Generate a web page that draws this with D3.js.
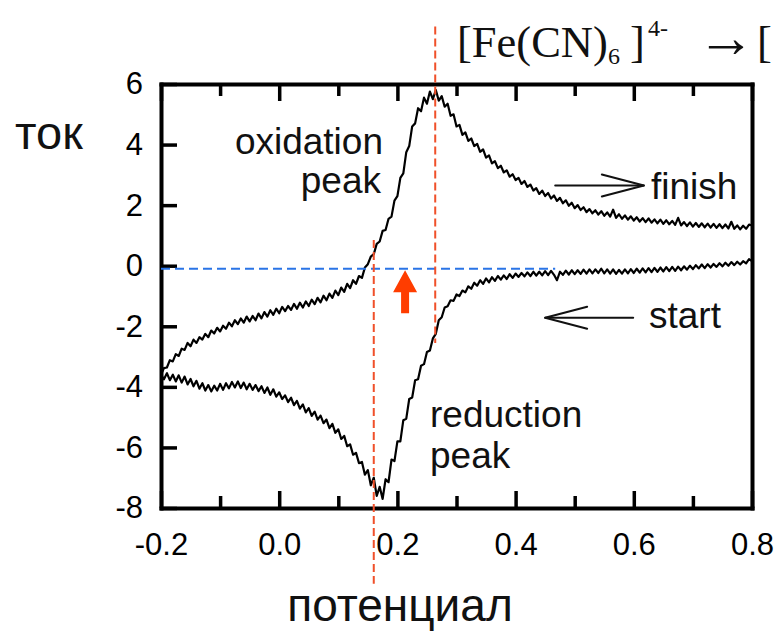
<!DOCTYPE html>
<html>
<head>
<meta charset="utf-8">
<script src="https://cdn.jsdelivr.net/npm/d3@7"></script>
<style>
  html, body { margin: 0; padding: 0; background: #fff; overflow: hidden; }
  svg { display: block; }
</style>
</head>
<body>
<svg id="chart" width="777" height="636"></svg>
<script>
// ---------------- data ----------------
const potential = [
  -0.2,-0.195,-0.19,-0.185,-0.18,-0.175,-0.17,-0.165,-0.16,-0.155,
  -0.15,-0.145,-0.14,-0.135,-0.13,-0.125,-0.12,-0.115,-0.11,-0.105,
  -0.1,-0.095,-0.09,-0.085,-0.08,-0.075,-0.07,-0.065,-0.06,-0.055,
  -0.05,-0.045,-0.04,-0.035,-0.03,-0.025,-0.02,-0.015,-0.01,-0.005,
  0,0.005,0.01,0.015,0.02,0.025,0.03,0.035,0.04,0.045,
  0.05,0.055,0.06,0.065,0.07,0.075,0.08,0.085,0.09,0.095,
  0.1,0.105,0.11,0.115,0.12,0.125,0.13,0.135,0.14,0.145,
  0.15,0.155,0.16,0.165,0.17,0.175,0.18,0.185,0.19,0.195,
  0.2,0.205,0.21,0.215,0.22,0.225,0.23,0.235,0.24,0.245,
  0.25,0.255,0.26,0.265,0.27,0.275,0.28,0.285,0.29,0.295,
  0.3,0.305,0.31,0.315,0.32,0.325,0.33,0.335,0.34,0.345,
  0.35,0.355,0.36,0.365,0.37,0.375,0.38,0.385,0.39,0.395,
  0.4,0.405,0.41,0.415,0.42,0.425,0.43,0.435,0.44,0.445,
  0.45,0.455,0.46,0.465,0.47,0.475,0.48,0.485,0.49,0.495,
  0.5,0.505,0.51,0.515,0.52,0.525,0.53,0.535,0.54,0.545,
  0.55,0.555,0.56,0.565,0.57,0.575,0.58,0.585,0.59,0.595,
  0.6,0.605,0.61,0.615,0.62,0.625,0.63,0.635,0.64,0.645,
  0.65,0.655,0.66,0.665,0.67,0.675,0.68,0.685,0.69,0.695,
  0.7,0.705,0.71,0.715,0.72,0.725,0.73,0.735,0.74,0.745,
  0.75,0.755,0.76,0.765,0.77,0.775,0.78,0.785,0.79,0.795,
  0.8
];

// anodic sweep (-0.2 -> 0.8, ends at "finish")
const oxidationCurrent = [
  -3.60,-3.38,-3.36,-3.12,-3.16,-2.92,-2.98,-2.74,-2.78,-2.55,
  -2.66,-2.44,-2.55,-2.36,-2.44,-2.25,-2.36,-2.14,-2.24,-2.05,
  -2.17,-1.98,-2.08,-1.88,-2.00,-1.80,-1.93,-1.74,-1.88,-1.68,
  -1.84,-1.66,-1.80,-1.58,-1.74,-1.53,-1.68,-1.47,-1.62,-1.42,
  -1.57,-1.36,-1.50,-1.33,-1.46,-1.26,-1.42,-1.22,-1.38,-1.18,
  -1.33,-1.12,-1.27,-1.06,-1.21,-0.99,-1.14,-0.92,-1.06,-0.82,
  -0.97,-0.72,-0.86,-0.60,-0.74,-0.48,-0.60,-0.34,-0.40,-0.06,
  0.05,0.30,0.38,0.72,0.80,1.15,1.18,1.55,1.62,2.15,
  2.30,2.90,3.05,3.75,3.95,4.60,4.70,5.20,5.10,5.55,
  5.35,5.75,5.50,5.80,5.45,5.60,5.25,5.35,4.95,5.00,
  4.60,4.65,4.32,4.40,4.12,4.20,3.95,4.02,3.76,3.84,
  3.57,3.64,3.38,3.45,3.22,3.30,3.08,3.15,2.94,3.02,
  2.83,2.90,2.70,2.80,2.60,2.68,2.48,2.56,2.37,2.48,
  2.30,2.40,2.22,2.32,2.14,2.24,2.06,2.16,1.98,2.08,
  1.90,2.00,1.84,1.93,1.77,1.87,1.73,1.83,1.69,1.80,
  1.65,1.76,1.62,1.85,1.58,1.70,1.55,1.66,1.52,1.63,
  1.49,1.60,1.46,1.57,1.44,1.56,1.42,1.53,1.40,1.52,
  1.38,1.50,1.37,1.48,1.35,1.58,1.33,1.44,1.31,1.43,
  1.29,1.41,1.28,1.40,1.27,1.39,1.26,1.38,1.25,1.37,
  1.24,1.36,1.23,1.45,1.22,1.33,1.20,1.32,1.22,1.36,
  1.33
];

// cathodic sweep (starts at 0.8 "start", runs to -0.2)
const reductionCurrent = [
  -3.60,-3.75,-3.55,-3.78,-3.60,-3.82,-3.62,-3.86,-3.66,-3.92,
  -3.74,-3.98,-3.80,-4.06,-3.88,-4.12,-3.94,-4.15,-3.96,-4.12,
  -3.90,-4.10,-3.88,-4.05,-3.84,-4.02,-3.82,-4.04,-3.86,-4.08,
  -3.90,-4.10,-3.94,-4.14,-3.98,-4.20,-4.02,-4.26,-4.08,-4.32,
  -4.18,-4.40,-4.28,-4.50,-4.36,-4.60,-4.46,-4.72,-4.58,-4.84,
  -4.70,-4.96,-4.82,-5.08,-4.95,-5.20,-5.08,-5.36,-5.22,-5.52,
  -5.40,-5.72,-5.62,-5.96,-5.90,-6.24,-6.18,-6.52,-6.48,-6.90,
  -6.75,-7.25,-7.00,-7.60,-7.30,-7.70,-7.05,-7.15,-6.40,-6.45,
  -5.80,-5.80,-5.10,-5.05,-4.40,-4.35,-3.78,-3.75,-3.30,-3.25,
  -2.85,-2.80,-2.40,-2.25,-1.80,-1.70,-1.38,-1.34,-1.14,-1.16,
  -0.95,-1.00,-0.82,-0.88,-0.68,-0.76,-0.56,-0.66,-0.48,-0.60,
  -0.42,-0.55,-0.38,-0.50,-0.34,-0.46,-0.32,-0.44,-0.28,-0.40,
  -0.26,-0.37,-0.24,-0.35,-0.22,-0.34,-0.20,-0.33,-0.20,-0.32,
  -0.18,-0.31,-0.17,-0.30,-0.48,-0.20,-0.30,-0.16,-0.29,-0.15,
  -0.28,-0.15,-0.27,-0.13,-0.26,-0.12,-0.25,-0.12,-0.24,-0.10,
  -0.25,-0.12,-0.26,-0.12,-0.27,-0.14,-0.26,-0.12,-0.25,-0.11,
  -0.24,-0.10,-0.23,-0.09,-0.22,-0.08,-0.21,-0.07,-0.20,-0.06,
  -0.19,-0.05,-0.18,-0.04,-0.17,-0.03,-0.15,-0.02,-0.13,0.00,
  -0.11,0.02,-0.09,0.04,-0.08,0.05,-0.06,0.06,-0.04,0.08,
  -0.02,0.10,0.00,0.12,0.02,0.13,0.04,0.15,0.08,0.22,
  0.15
];

const xMajorTicks = [-0.2, 0.0, 0.2, 0.4, 0.6, 0.8];
const xMinorTicks = [-0.1, 0.1, 0.3, 0.5, 0.7];
const yTicks = [-8, -6, -4, -2, 0, 2, 4, 6];

// annotation values (data units)
const peakPotentials = [0.160, 0.264];        // red dashed verticals
const peakLineSpans = [[-10.5, 0.85], [-2.55, 7.9]];
const zeroLine = { current: -0.1, from: -0.2, to: 0.467 };
const midArrow = { potential: 0.213, current: -0.15 };
const finishArrow = { from: 0.467, to: 0.617, current: 2.65 };
const startArrow = { from: 0.599, to: 0.450, current: -1.72 };

const labels = {
  yTitle: "ток",
  xTitle: "потенциал",
  oxidation: ["oxidation", "peak"],
  reduction: ["reduction", "peak"],
  finish: "finish",
  start: "start"
};

// ---------------- drawing ----------------
const svg = d3.select("#chart");
svg.append("rect").attr("width", 777).attr("height", 636).attr("fill", "#fff");

const x = d3.scaleLinear().domain([-0.2, 0.8]).range([161, 752]);
const y = d3.scaleLinear().domain([-8, 6]).range([508, 84]);

const SANS = "'Liberation Sans', Arial, Helvetica, sans-serif";
const SERIF = "'Liberation Serif', 'Times New Roman', Times, serif";

function styleAxis(g) {
  g.selectAll(".domain").attr("stroke", "#000").attr("stroke-width", 4).attr("stroke-linecap", "square");
  g.selectAll(".tick line").attr("stroke", "#000").attr("stroke-width", 3.5);
  g.selectAll(".tick text").attr("fill", "#000").attr("font-family", SANS).attr("font-size", 31);
}

// bottom axis
const gBottom = svg.append("g").attr("transform", "translate(0,508)")
  .call(d3.axisBottom(x).tickValues(xMajorTicks).tickSizeInner(-17).tickSizeOuter(0)
    .tickPadding(25).tickFormat(d => d.toFixed(1)));
styleAxis(gBottom);
const gBottomMinor = svg.append("g").attr("transform", "translate(0,508)")
  .call(d3.axisBottom(x).tickValues(xMinorTicks).tickSizeInner(-12).tickSizeOuter(0).tickFormat(""));
gBottomMinor.select(".domain").remove();
styleAxis(gBottomMinor);

// top axis
const gTop = svg.append("g").attr("transform", "translate(0,84)")
  .call(d3.axisTop(x).tickValues(xMajorTicks).tickSizeInner(-17).tickSizeOuter(0).tickFormat(""));
styleAxis(gTop);
const gTopMinor = svg.append("g").attr("transform", "translate(0,84)")
  .call(d3.axisTop(x).tickValues(xMinorTicks).tickSizeInner(-12).tickSizeOuter(0).tickFormat(""));
gTopMinor.select(".domain").remove();
styleAxis(gTopMinor);

// left axis
const gLeft = svg.append("g").attr("transform", "translate(161,0)")
  .call(d3.axisLeft(y).tickValues(yTicks).tickSizeInner(-16).tickSizeOuter(0)
    .tickPadding(18).tickFormat(d => String(d)));
styleAxis(gLeft);

// right axis (frame only)
const gRight = svg.append("g").attr("transform", "translate(752,0)")
  .call(d3.axisRight(y).tickValues([]).tickSizeOuter(0));
styleAxis(gRight);

// curves
const line = d3.line().x(d => x(d[0])).y(d => y(d[1]));
const oxData = potential.map((p, i) => [p, oxidationCurrent[i]]);
const redData = potential.map((p, i) => [p, reductionCurrent[i]]).reverse();
[redData, oxData].forEach(data => {
  svg.append("path").datum(data).attr("d", line)
    .attr("fill", "none").attr("stroke", "#000").attr("stroke-width", 2.2)
    .attr("stroke-linejoin", "round");
});

// blue dashed zero line
svg.append("line")
  .attr("x1", x(zeroLine.from)).attr("x2", x(zeroLine.to))
  .attr("y1", y(zeroLine.current)).attr("y2", y(zeroLine.current))
  .attr("stroke", "#2a74e6").attr("stroke-width", 2).attr("stroke-dasharray", "9,5");

// red dashed peak lines
peakPotentials.forEach((p, i) => {
  svg.append("line")
    .attr("x1", x(p)).attr("x2", x(p))
    .attr("y1", y(peakLineSpans[i][1])).attr("y2", y(peakLineSpans[i][0]))
    .attr("stroke", "#f0502a").attr("stroke-width", 2).attr("stroke-dasharray", "8,4");
});

// red up-arrow
{
  const tx = x(midArrow.potential), ty = y(midArrow.current);
  const p = d3.path();
  p.moveTo(tx, ty);
  p.lineTo(tx + 12, ty + 22);
  p.lineTo(tx + 4, ty + 22);
  p.lineTo(tx + 4, ty + 43);
  p.lineTo(tx - 4, ty + 43);
  p.lineTo(tx - 4, ty + 22);
  p.lineTo(tx - 12, ty + 22);
  p.closePath();
  svg.append("path").attr("d", p.toString()).attr("fill", "#ff3d00");
}

// open arrows for finish / start
function openArrow(a) {
  const x1 = x(a.from), x2 = x(a.to), yy = y(a.current);
  const dir = x2 > x1 ? 1 : -1;
  const g = svg.append("g").attr("stroke", "#111").attr("stroke-width", 2).attr("fill", "none")
    .attr("stroke-linecap", "round").attr("stroke-linejoin", "round");
  g.append("line").attr("x1", x1).attr("x2", x2).attr("y1", yy).attr("y2", yy);
  g.append("path").attr("d", `M${x2 - dir * 42},${yy - 11} L${x2},${yy} L${x2 - dir * 42},${yy + 11}`);
}
openArrow(finishArrow);
openArrow(startArrow);

// annotation text
const txt = (s, xx, yy, size, anchor, fam) => svg.append("text")
  .attr("x", xx).attr("y", yy).attr("font-size", size).attr("font-family", fam || SANS)
  .attr("fill", "#111").attr("text-anchor", anchor || "start").text(s);

txt(labels.oxidation[0], 383, 154, 37, "end");
txt(labels.oxidation[1], 381, 193, 37, "end");
txt(labels.reduction[0], 430, 427, 37);
txt(labels.reduction[1], 430, 468, 37);
txt(labels.finish, 651, 199, 37);
txt(labels.start, 649, 328, 37);

// axis titles
txt(labels.yTitle, 15, 149, 47);
txt(labels.xTitle, 400, 621, 46, "middle");

// reaction title (serif)
txt("[Fe(CN)", 457, 57, 44.5, "start", SERIF);
txt("6", 608, 64, 24, "start", SERIF);
txt("]", 630, 57, 44.5, "start", SERIF);
txt("4-", 648, 36, 24, "start", SERIF);
txt("\u2192", 697, 57, 58, "start", SERIF);
txt("[", 757, 57, 44.5, "start", SERIF);
</script>
</body>
</html>
